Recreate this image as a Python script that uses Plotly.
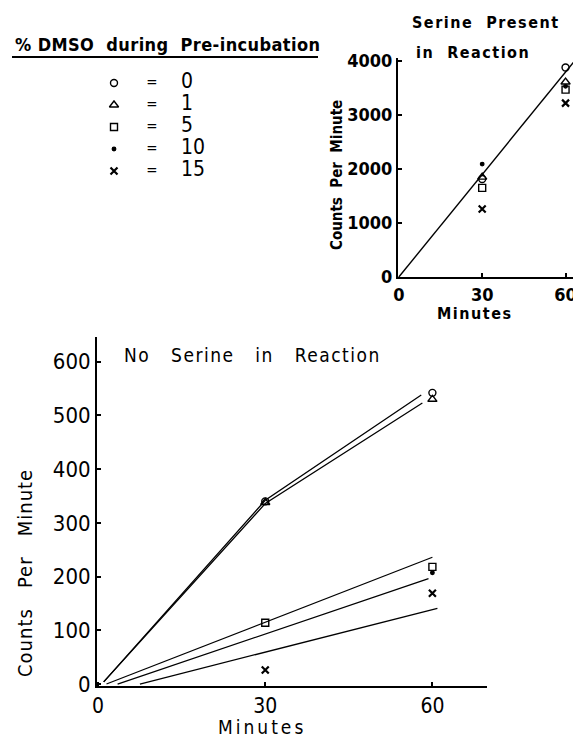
import plotly.graph_objects as go

# page body has an 8px margin: size the figure so it fills the 581x739 window
OFF = 8
W, H = 581 - OFF, 739 - OFF
FONT = "DejaVu Sans Condensed, Liberation Sans Narrow, DejaVu Sans, sans-serif"

# ---------------- data ----------------
dmso_levels = ["0", "1", "5", "10", "15"]
symbols = ["circle-open", "triangle-up-open", "square-open", "circle", "x-thin"]
marker_sizes = [7, 8, 7, 3.5, 7]

minutes = [30, 60]

# Serine present in reaction (counts per minute)
serine_cpm = {
    "0": [1815, 3880],
    "1": [1850, 3610],
    "5": [1650, 3470],
    "10": [2090, 3530],
    "15": [1260, 3220],
}
serine_fit_x = [0, 64]
serine_fit_y = [0, 4050]

# No serine in reaction (counts per minute)
noserine_cpm = {
    "0": [340, 542],
    "1": [338, 530],
    "5": [114, 218],
    "10": [None, 207],
    "15": [26, 169],
}
noserine_fit = {
    "0": ([1, 30, 58], [4, 342, 538]),
    "1": ([1, 30, 58.2], [4, 336, 523]),
    "5": ([1.5, 60], [0, 236]),
    "10": ([3.5, 59.3], [0, 196]),
    "15": ([7.5, 60.9], [0, 141]),
}

top_yticks = [0, 1000, 2000, 3000, 4000]
bottom_yticks = [0, 100, 200, 300, 400, 500, 600]
xticks = [0, 30, 60]

# ---------------- figure ----------------
fig = go.Figure()

def marker(i):
    return dict(symbol=symbols[i], size=marker_sizes[i], color="black",
                line=dict(color="black", width=2.2 if symbols[i] == "x-thin" else 1.4))

# top chart
fig.add_trace(go.Scatter(x=serine_fit_x, y=serine_fit_y, mode="lines",
                         line=dict(color="black", width=1.4), xaxis="x", yaxis="y",
                         showlegend=False, hoverinfo="skip"))
for i, lvl in enumerate(dmso_levels):
    fig.add_trace(go.Scatter(x=minutes, y=serine_cpm[lvl], mode="markers",
                             marker=marker(i), xaxis="x", yaxis="y",
                             showlegend=False, name=lvl + "%"))

# bottom chart
for lvl in dmso_levels:
    fx, fy = noserine_fit[lvl]
    fig.add_trace(go.Scatter(x=fx, y=fy, mode="lines",
                             line=dict(color="black", width=1.3), xaxis="x2", yaxis="y2",
                             showlegend=False, hoverinfo="skip"))
for i, lvl in enumerate(dmso_levels):
    fig.add_trace(go.Scatter(x=minutes, y=noserine_cpm[lvl], mode="markers",
                             marker=marker(i), xaxis="x2", yaxis="y2",
                             showlegend=False, name=lvl + "%"))

# key (symbol = value)
rows = list(range(len(dmso_levels)))
for i, lvl in enumerate(dmso_levels):
    fig.add_trace(go.Scatter(x=[114], y=[i], mode="markers", marker=marker(i),
                             xaxis="x3", yaxis="y3", showlegend=False, hoverinfo="skip"))
fig.add_trace(go.Scatter(x=[152] * len(rows), y=rows, mode="text", text=["="] * len(rows),
                         textfont=dict(family=FONT, size=15, color="black"),
                         xaxis="x3", yaxis="y3", showlegend=False, hoverinfo="skip"))
fig.add_trace(go.Scatter(x=[181] * len(rows), y=rows, mode="text", text=dmso_levels,
                         textposition="middle right",
                         textfont=dict(family=FONT, size=21, color="black"),
                         xaxis="x3", yaxis="y3", showlegend=False, hoverinfo="skip"))

def px(x):
    return (x - OFF) / W

def py(y):
    return 1 - (y - OFF) / H

axis_common = dict(showline=True, linecolor="black", ticks="inside", tickcolor="black",
                   ticklen=4, tickwidth=1.5, showgrid=False, zeroline=False, mirror=False,
                   automargin=False)

fig.update_layout(
    template="none",
    width=W, height=H, margin=dict(l=0, r=0, t=0, b=0, pad=0, autoexpand=False),
    paper_bgcolor="white", plot_bgcolor="rgba(0,0,0,0)",
    font=dict(family=FONT, color="black"),
    showlegend=False,
    xaxis=dict(domain=[px(398), px(580)], anchor="y", range=[-0.3, 65.2],
               tickvals=xticks, linewidth=2,
               tickfont=dict(family=FONT, size=18, weight="bold"), **axis_common),
    yaxis=dict(domain=[py(277), py(58)], anchor="x", range=[0, 4055],
               tickvals=top_yticks, linewidth=2,
               tickfont=dict(family=FONT, size=18, weight="bold"), **axis_common),
    xaxis2=dict(domain=[px(97), px(487)], anchor="y2", range=[-0.2, 69.8],
                tickvals=xticks, linewidth=1.8,
                tickfont=dict(family=FONT, size=21), **axis_common),
    yaxis2=dict(domain=[py(686), py(337)], anchor="x2", range=[-3.7, 646],
                tickvals=bottom_yticks, linewidth=2,
                tickfont=dict(family=FONT, size=22), **axis_common),
    xaxis3=dict(domain=[0, 0.55], range=[OFF, OFF + 0.55 * W], visible=False, anchor="y3",
                automargin=False),
    yaxis3=dict(domain=[py(182), py(72)], range=[4.5, -0.5], visible=False, anchor="x3",
                automargin=False),
)

def ann(text, x, y, size, bold=False, angle=0, spacing=0, xanchor="center"):
    t = text
    if spacing:
        t = "<span style='letter-spacing:%spx'>%s</span>" % (spacing, text)
    fig.add_annotation(text=t, x=px(x), y=py(y), xref="paper", yref="paper",
                       xanchor=xanchor, yanchor="middle", showarrow=False, textangle=angle,
                       font=dict(family=FONT, size=size, color="black",
                                 weight="bold" if bold else "normal"))

# key header
ann("% DMSO  during  Pre-incubation", 13, 45, 18, bold=True, spacing=0.4, xanchor="left")
fig.add_shape(type="line", xref="paper", yref="paper", x0=px(12), x1=px(318),
              y0=py(57), y1=py(57), line=dict(color="black", width=2))

# top chart texts
ann("Serine  Present", 486, 23, 16, bold=True, spacing=1.5)
ann("in  Reaction", 473, 53, 16, bold=True, spacing=1.5)
ann("Counts  Per  Minute", 337, 175, 15, bold=True, angle=-90)
ann("Minutes", 474, 313, 16, bold=True, spacing=1.5)

# bottom chart texts
ann("No   Serine   in   Reaction", 252, 355, 19, spacing=1.5)
ann("Counts   Per   Minute", 25, 573, 20, angle=-90, spacing=1)
ann("Minutes", 262, 727, 19, spacing=3)

fig.write_html("out.html")
